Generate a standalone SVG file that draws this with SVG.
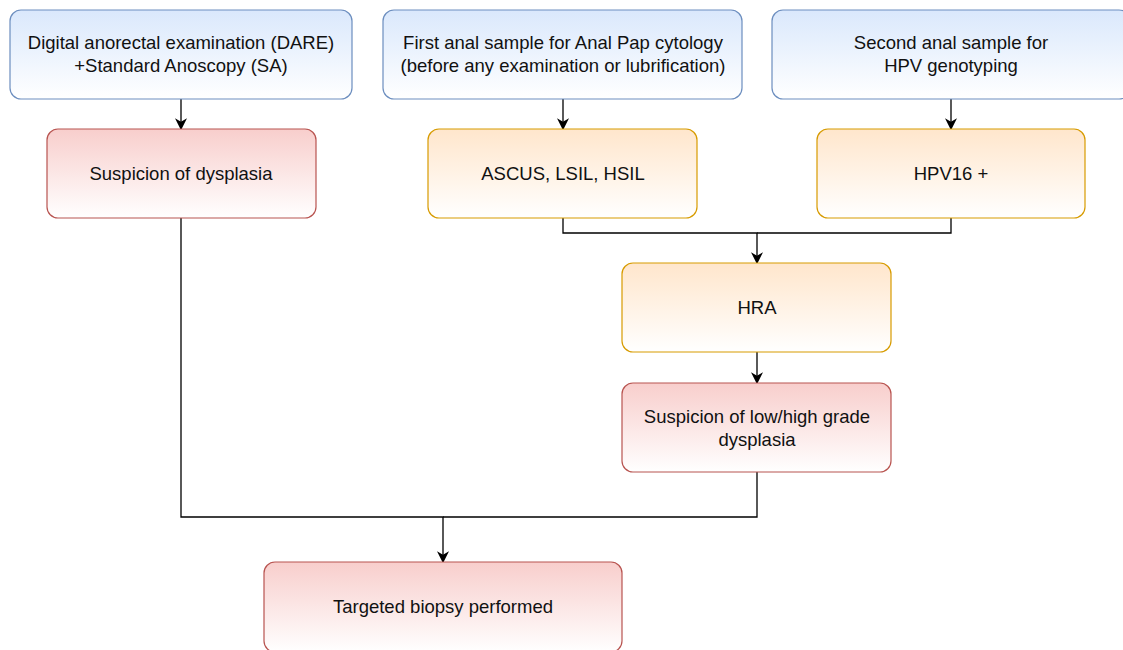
<svg xmlns="http://www.w3.org/2000/svg" width="1123" height="650" viewBox="0 0 1123 650">
<defs>
<linearGradient id="gBlue" x1="0" y1="0" x2="0" y2="1"><stop offset="0" stop-color="#dae8fc"/><stop offset="1" stop-color="#ffffff"/></linearGradient>
<linearGradient id="gRed" x1="0" y1="0" x2="0" y2="1"><stop offset="0" stop-color="#f8cecc"/><stop offset="1" stop-color="#ffffff"/></linearGradient>
<linearGradient id="gOrange" x1="0" y1="0" x2="0" y2="1"><stop offset="0" stop-color="#ffe6cc"/><stop offset="1" stop-color="#ffffff"/></linearGradient>
<marker id="arr" viewBox="0 0 10 10" refX="9" refY="5" markerWidth="12" markerHeight="12" markerUnits="userSpaceOnUse" orient="auto">
<path d="M0,0 L10,5 L0,10 L3,5 Z" fill="#000"/>
</marker>
</defs>
<style>
.blue{fill:url(#gBlue);stroke:#6c8ebf;stroke-width:1.2}
.red{fill:url(#gRed);stroke:#b85450;stroke-width:1.2}
.orange{fill:url(#gOrange);stroke:#d79b00;stroke-width:1.2}
text{font-family:"Liberation Sans",Arial,sans-serif;font-size:18.5px;fill:#111;text-anchor:middle}
.conn path{fill:none;stroke:#000;stroke-width:1.3}
</style>
<rect width="1123" height="650" fill="#fff"/>
<g class="conn">
<path d="M181,99 V129" marker-end="url(#arr)"/>
<path d="M563,99 V129" marker-end="url(#arr)"/>
<path d="M951,99 V129" marker-end="url(#arr)"/>
<path d="M563,218 V233 H757 V263" marker-end="url(#arr)"/>
<path d="M951,218 V233 H757"/>
<path d="M757,352 V383" marker-end="url(#arr)"/>
<path d="M181,218 V517 H443 V562" marker-end="url(#arr)"/>
<path d="M757,472 V517 H443"/>
</g>
<g id="n1"><rect class="blue" x="10" y="10" width="342" height="89" rx="11"/><text x="181" y="49">Digital anorectal examination (DARE)</text><text x="181" y="72">+Standard Anoscopy (SA)</text></g>
<g id="n2"><rect class="blue" x="383" y="10" width="359" height="89" rx="11"/><text x="563" y="49">First anal sample for Anal Pap cytology</text><text x="563" y="72">(before any examination or lubrification)</text></g>
<g id="n3"><rect class="blue" x="772" y="10" width="358" height="89" rx="11"/><text x="951" y="49">Second anal sample for</text><text x="951" y="72">HPV genotyping</text></g>
<g id="n4"><rect class="red" x="47" y="129" width="269" height="89" rx="11"/><text x="181" y="180">Suspicion of dysplasia</text></g>
<g id="n5"><rect class="orange" x="428" y="129" width="269" height="89" rx="11"/><text x="563" y="180">ASCUS, LSIL, HSIL</text></g>
<g id="n6"><rect class="orange" x="817" y="129" width="268" height="89" rx="11"/><text x="951" y="180">HPV16 +</text></g>
<g id="n7"><rect class="orange" x="622" y="263" width="269" height="89" rx="11"/><text x="757" y="314">HRA</text></g>
<g id="n8"><rect class="red" x="622" y="383" width="269" height="89" rx="11"/><text x="757" y="423">Suspicion of low/high grade</text><text x="757" y="446">dysplasia</text></g>
<g id="n9"><rect class="red" x="264" y="562" width="358" height="90" rx="11"/><text x="443" y="613">Targeted biopsy performed</text></g>
</svg>
